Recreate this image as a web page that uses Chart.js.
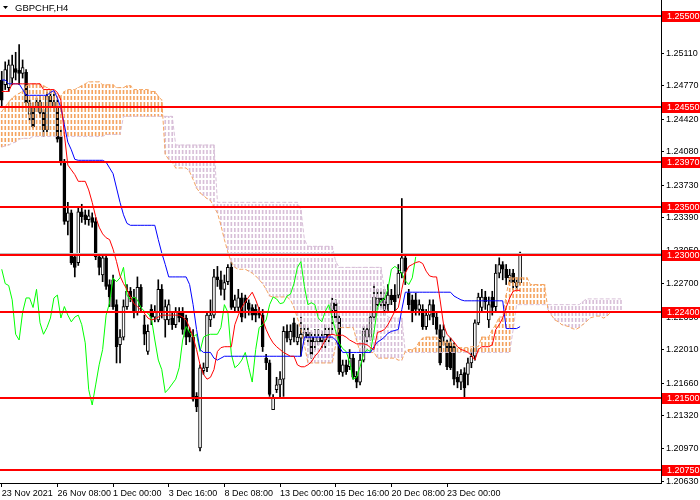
<!DOCTYPE html>
<html>
<head>
<meta charset="utf-8">
<title>GBPCHF,H4</title>
<script src="https://cdn.jsdelivr.net/npm/chart.js@4.4.1/dist/chart.umd.min.js"></script>
<style>
  html, body { margin: 0; padding: 0; background: #fff; }
  canvas { display: block; }
</style>
</head>
<body>
<canvas id="chartCanvas" width="700" height="500"></canvas>
<script>
const symbolTitle = 'GBPCHF,H4';
const barCount = 190; // visible H4 slots, incl. the cloud projected ahead
const timeLabels = ['23 Nov 2021', '26 Nov 08:00', '1 Dec 00:00', '3 Dec 16:00', '8 Dec 08:00',
    '13 Dec 00:00', '15 Dec 16:00', '20 Dec 08:00', '23 Dec 00:00'];
const priceTicks = [1.2063, 1.2097, 1.2132, 1.2166, 1.2201, 1.2235, 1.2270, 1.2305,
    1.2339, 1.2373, 1.2408, 1.2442, 1.2477, 1.2511, 1.2546];
const levels = [1.2550, 1.2455, 1.2397, 1.2350, 1.2300, 1.2240, 1.2150, 1.2075];

const opens = [
    1.2483,1.2478,1.2475,1.2485,1.2495,1.2493,1.2490,1.2491,1.2447,1.2455,
    1.2454,1.2460,1.2449,1.2431,1.2466,1.2460,1.2454,1.2424,1.2397,1.2335,
    1.2344,1.2298,1.2292,1.2345,1.2342,1.2337,1.2339,1.2335,1.2298,1.2279,
    1.2297,1.2269,1.2274,1.2248,1.2206,1.2214,1.2246,1.2262,1.2256,1.2240,
    1.2266,1.2227,1.2199,1.2243,1.2235,1.2232,1.2264,1.2232,1.2232,1.2234,
    1.2227,1.2240,1.2241,1.2234,1.2220,1.2214,1.2152,1.2098,1.2179,1.2182,
    1.2232,1.2237,1.2277,1.2274,1.2264,1.2272,1.2287,1.2245,1.2245,1.2255,
    1.2255,1.2250,1.2245,1.2243,1.2241,1.2237,1.2192,1.2187,1.2138,1.2159,
    1.2164,1.2170,1.2220,1.2211,1.2229,1.2209,1.2213,1.2214,1.2219,1.2214,
    1.2209,1.2209,1.2214,1.2211,1.2213,1.2243,1.2250,1.2234,1.2177,1.2185,
    1.2183,1.2192,1.2173,1.2167,1.2190,1.2214,1.2214,1.2235,1.2248,1.2255,
    1.2255,1.2248,1.2258,1.2258,1.2258,1.2281,1.2297,1.2260,1.2253,1.2253,
    1.2243,1.2243,1.2225,1.2237,1.2248,1.2235,1.2222,1.2214,1.2208,1.2208,
    1.2204,1.2172,1.2167,1.2177,1.2175,1.2187,1.2194,1.2229,1.2245,1.2256,
    1.2232,1.2256,1.2246,1.2281,1.2290,1.2285,1.2276,1.2281,1.2267,1.2271
];
const highs = [
    1.2492,1.2502,1.2504,1.2509,1.2512,1.2520,1.2504,1.2494,1.2462,1.2459,
    1.2464,1.2466,1.2452,1.2470,1.2471,1.2468,1.2462,1.2431,1.2400,1.2355,
    1.2347,1.2300,1.2349,1.2353,1.2347,1.2347,1.2344,1.2339,1.2301,1.2300,
    1.2300,1.2274,1.2279,1.2253,1.2222,1.2253,1.2269,1.2266,1.2264,1.2277,
    1.2269,1.2237,1.2227,1.2248,1.2247,1.2274,1.2269,1.2253,1.2253,1.2241,
    1.2245,1.2245,1.2245,1.2237,1.2224,1.2222,1.2156,1.2185,1.2187,1.2241,
    1.2253,1.2285,1.2288,1.2283,1.2279,1.2290,1.2292,1.2258,1.2264,1.2260,
    1.2258,1.2253,1.2248,1.2248,1.2245,1.2243,1.2196,1.2190,1.2154,1.2172,
    1.2178,1.2225,1.2227,1.2227,1.2234,1.2227,1.2235,1.2227,1.2224,1.2219,
    1.2222,1.2222,1.2220,1.2227,1.2224,1.2255,1.2253,1.2237,1.2190,1.2190,
    1.2201,1.2196,1.2178,1.2196,1.2225,1.2227,1.2241,1.2269,1.2264,1.2262,
    1.2264,1.2269,1.2264,1.2269,1.2290,1.2359,1.2300,1.2264,1.2258,1.2260,
    1.2253,1.2248,1.2243,1.2253,1.2253,1.2241,1.2227,1.2227,1.2211,1.2213,
    1.2208,1.2178,1.2180,1.2182,1.2192,1.2201,1.2232,1.2260,1.2264,1.2262,
    1.2256,1.2262,1.2290,1.2297,1.2293,1.2290,1.2285,1.2285,1.2276,1.2303
];
const lows = [
    1.2454,1.2473,1.2471,1.2478,1.2483,1.2478,1.2485,1.2456,1.2441,1.2433,
    1.2450,1.2444,1.2424,1.2429,1.2454,1.2450,1.2418,1.2394,1.2332,1.2321,
    1.2290,1.2277,1.2289,1.2334,1.2332,1.2331,1.2329,1.2295,1.2279,1.2272,
    1.2264,1.2246,1.2243,1.2187,1.2187,1.2211,1.2243,1.2251,1.2234,1.2237,
    1.2241,1.2206,1.2196,1.2227,1.2230,1.2230,1.2234,1.2214,1.2227,1.2222,
    1.2224,1.2230,1.2217,1.2206,1.2209,1.2147,1.2136,1.2095,1.2175,1.2178,
    1.2225,1.2234,1.2267,1.2258,1.2253,1.2269,1.2243,1.2241,1.2241,1.2230,
    1.2234,1.2237,1.2232,1.2230,1.2234,1.2199,1.2180,1.2152,1.2138,1.2156,
    1.2151,1.2152,1.2209,1.2206,1.2209,1.2206,1.2194,1.2211,1.2209,1.2192,
    1.2201,1.2206,1.2203,1.2203,1.2209,1.2217,1.2230,1.2175,1.2173,1.2175,
    1.2180,1.2170,1.2161,1.2164,1.2188,1.2209,1.2211,1.2232,1.2243,1.2245,
    1.2237,1.2241,1.2248,1.2241,1.2255,1.2276,1.2269,1.2243,1.2230,1.2237,
    1.2237,1.2222,1.2222,1.2232,1.2227,1.2217,1.2185,1.2206,1.2180,1.2180,
    1.2164,1.2161,1.2159,1.2151,1.2164,1.2182,1.2190,1.2227,1.2241,1.2243,
    1.2224,1.2237,1.2241,1.2276,1.2274,1.2269,1.2271,1.2264,1.2264,1.2269
];
const closes = [
    1.2462,1.2494,1.2499,1.2499,1.2491,1.2490,1.2496,1.2459,1.2459,1.2434,
    1.2460,1.2449,1.2431,1.2466,1.2460,1.2454,1.2421,1.2397,1.2335,1.2344,
    1.2292,1.2287,1.2345,1.2340,1.2337,1.2341,1.2334,1.2298,1.2287,1.2297,
    1.2267,1.2256,1.2246,1.2204,1.2214,1.2246,1.2262,1.2256,1.2240,1.2266,
    1.2246,1.2217,1.2220,1.2235,1.2241,1.2264,1.2240,1.2246,1.2248,1.2227,
    1.2240,1.2234,1.2222,1.2214,1.2214,1.2149,1.2141,1.2182,1.2182,1.2237,
    1.2237,1.2277,1.2274,1.2264,1.2271,1.2287,1.2245,1.2253,1.2255,1.2235,
    1.2250,1.2243,1.2237,1.2237,1.2237,1.2204,1.2187,1.2154,1.2151,1.2164,
    1.2170,1.2220,1.2213,1.2220,1.2214,1.2214,1.2217,1.2219,1.2213,1.2196,
    1.2214,1.2214,1.2209,1.2217,1.2217,1.2250,1.2234,1.2178,1.2185,1.2178,
    1.2192,1.2172,1.2167,1.2190,1.2220,1.2222,1.2235,1.2256,1.2255,1.2250,
    1.2243,1.2258,1.2253,1.2251,1.2281,1.2297,1.2283,1.2248,1.2241,1.2243,
    1.2248,1.2225,1.2237,1.2248,1.2235,1.2222,1.2187,1.2222,1.2183,1.2182,
    1.2170,1.2167,1.2175,1.2161,1.2187,1.2194,1.2229,1.2256,1.2256,1.2251,
    1.2248,1.2245,1.2281,1.2290,1.2285,1.2276,1.2279,1.2271,1.2271,1.2302
];

// Ichimoku lines
const tenkan = [
    1.2471,1.2471,1.2471,1.2479,1.2479,1.2479,1.2479,1.2479,1.2479,1.2479,
    1.2479,1.2479,1.2473,1.2473,1.2473,1.2473,1.2470,1.2462,1.2426,1.2394,
    1.2389,1.2384,1.2377,1.2377,1.2377,1.2368,1.2355,1.2340,1.2329,1.2322,
    1.2318,1.2316,1.2306,1.2293,1.2278,1.2270,1.2264,1.2256,1.2249,1.2246,
    1.2242,1.2239,1.2234,1.2232,1.2233,1.2235,1.2237,1.2237,1.2237,1.2237,
    1.2237,1.2237,1.2235,1.2232,1.2224,1.2214,1.2201,1.2185,1.2175,1.2170,
    1.2172,1.2180,1.2199,1.2203,1.2204,1.2204,1.2204,1.2227,1.2237,1.2245,
    1.2251,1.2256,1.2261,1.2253,1.2243,1.2232,1.2222,1.2214,1.2208,1.2204,
    1.2201,1.2198,1.2196,1.2194,1.2194,1.2185,1.2183,1.2183,1.2185,1.2188,
    1.2194,1.2198,1.2204,1.2211,1.2216,1.2217,1.2216,1.2216,1.2216,1.2214,
    1.2211,1.2209,1.2207,1.2207,1.2207,1.2206,1.2203,1.2201,1.2219,1.2220,
    1.2222,1.2227,1.2234,1.2241,1.2245,1.2264,1.2281,1.2288,1.2290,1.2292,
    1.2293,1.2291,1.2283,1.2278,1.2277,1.2277,1.2253,1.2227,1.2217,1.2213,
    1.2209,1.2204,1.2201,1.2200,1.2198,1.2195,1.2190,1.2201,1.2204,1.2204,
    1.2204,1.2206,1.2222,1.2227,1.2234,1.2245,1.2255,1.2262,1.2263,1.2263
];
const kijun = [
    1.2483,1.2483,1.2479,1.2479,1.2479,1.2479,1.2473,1.2467,1.2467,1.2467,
    1.2467,1.2467,1.2467,1.2467,1.2470,1.2472,1.2464,1.2454,1.2436,1.2418,
    1.2410,1.2400,1.2399,1.2399,1.2399,1.2399,1.2399,1.2399,1.2399,1.2399,
    1.2397,1.2391,1.2385,1.2370,1.2355,1.2342,1.2333,1.2331,1.2331,1.2331,
    1.2331,1.2331,1.2331,1.2331,1.2331,1.2316,1.2302,1.2290,1.2277,1.2277,
    1.2277,1.2277,1.2277,1.2277,1.2269,1.2248,1.2222,1.2201,1.2198,1.2198,
    1.2198,1.2192,1.2190,1.2192,1.2194,1.2194,1.2194,1.2194,1.2194,1.2194,
    1.2194,1.2194,1.2194,1.2194,1.2194,1.2194,1.2194,1.2194,1.2194,1.2194,
    1.2194,1.2194,1.2194,1.2194,1.2194,1.2194,1.2194,1.2214,1.2214,1.2214,
    1.2214,1.2214,1.2214,1.2214,1.2214,1.2214,1.2211,1.2204,1.2198,1.2198,
    1.2198,1.2198,1.2198,1.2198,1.2198,1.2198,1.2198,1.2204,1.2209,1.2211,
    1.2214,1.2218,1.2220,1.2221,1.2222,1.2243,1.2261,1.2261,1.2261,1.2261,
    1.2261,1.2261,1.2261,1.2261,1.2261,1.2261,1.2261,1.2261,1.2261,1.2261,
    1.2257,1.2255,1.2253,1.2252,1.2252,1.2252,1.2252,1.2252,1.2252,1.2252,
    1.2252,1.2252,1.2252,1.2252,1.2252,1.2223,1.2223,1.2223,1.2223,1.2225
];
const chikou = [
    1.2285,1.2270,1.2268,1.2253,1.2217,1.2211,1.2240,1.2255,1.2255,1.2245,
    1.2264,1.2229,1.2217,1.2224,1.2234,1.2255,1.2258,1.2234,1.2246,1.2237,
    1.2230,1.2235,1.2237,1.2227,1.2208,1.2159,1.2143,1.2164,1.2185,1.2201,
    1.2237,1.2250,1.2276,1.2272,1.2276,1.2287,1.2258,1.2253,1.2256,1.2253,
    1.2245,1.2241,1.2239,1.2234,1.2211,1.2190,1.2180,1.2156,1.2160,1.2165,
    1.2170,1.2182,1.2211,1.2225,1.2219,1.2214,1.2217,1.2199,1.2214,1.2216,
    1.2217,1.2217,1.2217,1.2224,1.2248,1.2240,1.2196,1.2182,1.2185,1.2190,
    1.2198,1.2182,1.2167,1.2201,1.2224,1.2227,1.2232,1.2248,1.2256,1.2254,
    1.2249,1.2250,1.2257,1.2259,1.2270,1.2287,1.2293,1.2267,1.2248,1.2250,
    1.2248,1.2234,1.2230,1.2241,1.2248,1.2234,1.2220,1.2208,1.2202,1.2199,
    1.2188,1.2170,1.2172,1.2183,1.2196,1.2201,1.2199,1.2219,1.2245,1.2252,
    1.2254,1.2264,1.2285,1.2288,1.2285,1.2281,1.2273,1.2269,1.2276,1.2298
];
const senkouA = [
    1.2450,1.2455,1.2460,1.2464,1.2467,1.2469,1.2471,1.2477,1.2478,1.2479,
    1.2479,1.2479,1.2477,1.2475,1.2473,1.2471,1.2468,1.2466,1.2471,1.2473,
    1.2473,1.2473,1.2475,1.2477,1.2479,1.2481,1.2481,1.2481,1.2481,1.2478,
    1.2478,1.2478,1.2478,1.2475,1.2475,1.2475,1.2477,1.2477,1.2473,1.2473,
    1.2473,1.2473,1.2473,1.2471,1.2471,1.2466,1.2462,1.2405,1.2400,1.2397,
    1.2391,1.2391,1.2391,1.2391,1.2387,1.2379,1.2370,1.2365,1.2362,1.2359,
    1.2357,1.2350,1.2344,1.2331,1.2316,1.2303,1.2292,1.2287,1.2285,1.2285,
    1.2285,1.2283,1.2281,1.2278,1.2274,1.2270,1.2264,1.2257,1.2256,1.2256,
    1.2256,1.2256,1.2256,1.2253,1.2245,1.2234,1.2222,1.2206,1.2187,1.2187,
    1.2187,1.2187,1.2187,1.2187,1.2187,1.2187,1.2206,1.2224,1.2224,1.2224,
    1.2224,1.2224,1.2211,1.2198,1.2198,1.2198,1.2198,1.2198,1.2192,1.2192,
    1.2192,1.2192,1.2192,1.2192,1.2190,1.2190,1.2199,1.2201,1.2201,1.2203,
    1.2209,1.2213,1.2214,1.2214,1.2214,1.2214,1.2211,1.2209,1.2209,1.2209,
    1.2206,1.2203,1.2203,1.2203,1.2203,1.2204,1.2204,1.2204,1.2214,1.2214,
    1.2214,1.2222,1.2227,1.2235,1.2235,1.2258,1.2276,1.2276,1.2276,1.2276,
    1.2276,1.2276,1.2269,1.2269,1.2269,1.2269,1.2269,1.2243,1.2237,1.2232,
    1.2230,1.2227,1.2226,1.2225,1.2223,1.2222,1.2224,1.2227,1.2230,1.2234,
    1.2235,1.2236,1.2236,1.2234,1.2236,1.2240,1.2240,1.2240,1.2240
];
const senkouB = [
    1.2413,1.2414,1.2415,1.2417,1.2418,1.2421,1.2422,1.2422,1.2422,1.2424,
    1.2424,1.2424,1.2424,1.2424,1.2424,1.2424,1.2424,1.2424,1.2424,1.2424,
    1.2424,1.2424,1.2424,1.2424,1.2424,1.2424,1.2424,1.2424,1.2424,1.2424,
    1.2426,1.2426,1.2426,1.2426,1.2426,1.2445,1.2445,1.2445,1.2445,1.2445,
    1.2445,1.2445,1.2445,1.2445,1.2445,1.2445,1.2445,1.2445,1.2445,1.2445,
    1.2415,1.2415,1.2415,1.2415,1.2415,1.2415,1.2415,1.2415,1.2415,1.2415,
    1.2415,1.2415,1.2355,1.2355,1.2355,1.2355,1.2355,1.2355,1.2355,1.2355,
    1.2355,1.2355,1.2355,1.2355,1.2355,1.2355,1.2355,1.2355,1.2355,1.2355,
    1.2355,1.2355,1.2355,1.2355,1.2355,1.2355,1.2347,1.2316,1.2309,1.2309,
    1.2309,1.2309,1.2309,1.2309,1.2309,1.2309,1.2293,1.2287,1.2287,1.2287,
    1.2287,1.2287,1.2287,1.2287,1.2287,1.2287,1.2287,1.2287,1.2287,1.2287,
    1.2264,1.2235,1.2234,1.2234,1.2234,1.2234,1.2198,1.2198,1.2198,1.2198,
    1.2198,1.2198,1.2198,1.2198,1.2198,1.2198,1.2198,1.2198,1.2198,1.2198,
    1.2198,1.2198,1.2198,1.2198,1.2198,1.2198,1.2198,1.2198,1.2198,1.2198,
    1.2198,1.2198,1.2198,1.2198,1.2198,1.2198,1.2198,1.2222,1.2248,1.2248,
    1.2248,1.2248,1.2248,1.2248,1.2248,1.2248,1.2248,1.2248,1.2248,1.2248,
    1.2248,1.2248,1.2248,1.2248,1.2248,1.2248,1.2248,1.2251,1.2254,1.2254,
    1.2254,1.2254,1.2254,1.2254,1.2254,1.2254,1.2254,1.2254,1.2254
];

const bullColor = '#FFFFFF';
const bearColor = '#000000';
const kumoUp = '#F4A460';   // sandybrown
const kumoDown = '#D8BFD8'; // thistle

// vertical dotted hatch like the terminal draws the kumo
function hatch(color) {
    const c = document.createElement('canvas');
    c.width = 1;
    c.height = 6;
    const g = c.getContext('2d');
    g.fillStyle = color;
    g.fillRect(0, 0, 1, 4);
    return g.createPattern(c, 'repeat');
}
const hatchUp = hatch(kumoUp);
const hatchDown = hatch(kumoDown);

const barLabels = Array.from({ length: barCount }, (_, i) => String(i));
const wickData = lows.map((l, i) => [l, highs[i]]);
const bodyData = opens.map((o, i) => [o, closes[i]]);
const bodyColors = opens.map((o, i) => closes[i] >= o ? bullColor : bearColor);
const cloudData = senkouA.map((a, i) => [a, senkouB[i]]);
const cloudColors = senkouA.map((a, i) => a >= senkouB[i] ? hatchUp : hatchDown);

const yMin = 1.20614;
const yMax = 1.25667;

const mtOverlay = {
    id: 'mtOverlay',
    afterDraw(chart) {
        const ctx = chart.ctx;
        const area = chart.chartArea;
        const y = chart.scales.y;
        ctx.save();

        // bid line
        const bid = Math.round(y.getPixelForValue(closes[closes.length - 1])) + 0.5;
        ctx.strokeStyle = '#C0C0C0';
        ctx.lineWidth = 1;
        ctx.beginPath();
        ctx.moveTo(area.left, bid);
        ctx.lineTo(area.right, bid);
        ctx.stroke();

        // horizontal levels
        ctx.fillStyle = '#FF0000';
        for (const v of levels) {
            const py = Math.round(y.getPixelForValue(v));
            ctx.fillRect(area.left, py - 1, area.right - area.left, 2);
        }

        // price tags on the axis
        ctx.font = "9px 'Liberation Sans', Arial, sans-serif";
        ctx.textBaseline = 'middle';
        ctx.textAlign = 'left';
        for (const v of levels) {
            const py = Math.round(y.getPixelForValue(v));
            ctx.fillStyle = '#FF0000';
            ctx.fillRect(area.right + 1, py - 5, chart.width - area.right - 1, 11);
            ctx.fillStyle = '#FFFFFF';
            ctx.fillText(v.toFixed(5), area.right + 6, py + 0.5);
        }

        // symbol caption
        ctx.fillStyle = '#000000';
        ctx.beginPath();
        ctx.moveTo(3, 6);
        ctx.lineTo(8, 6);
        ctx.lineTo(5.5, 9);
        ctx.closePath();
        ctx.fill();
        ctx.font = "9.5px 'Liberation Sans', Arial, sans-serif";
        ctx.fillText(symbolTitle, 15, 8);
        ctx.restore();
    }
};

Chart.defaults.font.family = "'Liberation Sans', Arial, sans-serif";
Chart.defaults.font.size = 9;
Chart.defaults.color = '#000000';

const myChart = new Chart(document.getElementById('chartCanvas'), {
    type: 'bar',
    data: {
        labels: barLabels,
        datasets: [
            { type: 'line', label: 'Tenkan-sen', data: tenkan, borderColor: '#FF0000', borderWidth: 1, pointRadius: 0, order: 1 },
            { type: 'line', label: 'Kijun-sen', data: kijun, borderColor: '#0000FF', borderWidth: 1, pointRadius: 0, order: 2 },
            { type: 'line', label: 'Chikou Span', data: chikou, borderColor: '#00FF00', borderWidth: 1, pointRadius: 0, order: 3 },
            { type: 'line', label: 'Senkou Span A', data: senkouA, borderColor: kumoUp, borderWidth: 1, borderDash: [4, 2], pointRadius: 0, order: 4 },
            { type: 'line', label: 'Senkou Span B', data: senkouB, borderColor: kumoDown, borderWidth: 1, borderDash: [4, 2], pointRadius: 0, order: 5 },
            { label: 'Kumo', data: cloudData, backgroundColor: cloudColors, borderWidth: 0, barThickness: 1, grouped: false, order: 6 },
            { label: 'Body', data: bodyData, backgroundColor: bodyColors, borderColor: '#000000', borderWidth: 1, borderSkipped: false, barThickness: 3, grouped: false, order: 7 },
            { label: 'Wick', data: wickData, backgroundColor: '#000000', borderWidth: 0, barThickness: 1, grouped: false, order: 8 }
        ]
    },
    options: {
        responsive: false,
        animation: false,
        devicePixelRatio: 1,
        layout: { padding: 0, autoPadding: false },
        plugins: {
            legend: { display: false },
            tooltip: { enabled: false }
        },
        scales: {
            x: {
                offset: true,
                grid: { display: true, drawOnChartArea: false, offset: false, color: '#000000', tickLength: 4 },
                border: { display: true, color: '#000000' },
                ticks: {
                    autoSkip: false,
                    maxRotation: 0,
                    minRotation: 0,
                    align: 'start',
                    padding: 1,
                    callback: (value) => timeLabels[value / 16]
                },
                afterBuildTicks: (scale) => {
                    scale.ticks = scale.ticks.filter(t => t.value % 16 === 0 && t.value / 16 < timeLabels.length);
                },
                afterFit: (scale) => {
                    scale.height = 17;
                    scale.paddingLeft = 0;
                    scale.paddingRight = 0;
                }
            },
            y: {
                position: 'right',
                min: yMin,
                max: yMax,
                grid: { display: true, drawOnChartArea: false, color: '#000000', tickLength: 3 },
                border: { display: true, color: '#000000' },
                ticks: {
                    padding: 2,
                    callback: (value) => value.toFixed(5)
                },
                afterBuildTicks: (scale) => {
                    scale.ticks = priceTicks.map(v => ({ value: v }));
                },
                afterFit: (scale) => {
                    scale.width = 39;
                    scale.paddingTop = 0;
                    scale.paddingBottom = 0;
                }
            }
        }
    },
    plugins: [mtOverlay]
});
</script>
</body>
</html>
